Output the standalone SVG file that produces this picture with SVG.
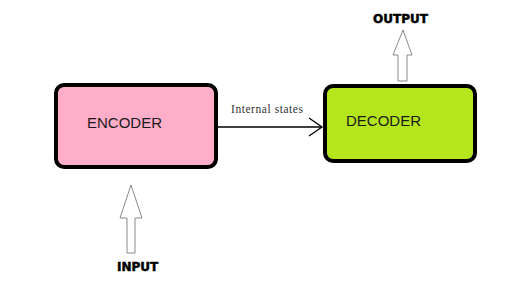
<svg xmlns="http://www.w3.org/2000/svg" width="527" height="284" viewBox="0 0 527 284">
<style>
.box{stroke:#000;stroke-width:4}
.lbl{font-family:"Liberation Sans",Arial,sans-serif;font-size:15px;fill:#1a1a1a}
.io{font-family:"DejaVu Sans",sans-serif;font-weight:bold;font-size:12px;fill:#000;stroke:#000;stroke-width:0.5}
.hollow{fill:#fff;stroke:#8a8a8a;stroke-width:1}
.conn{stroke:#000;stroke-width:1.3;fill:none}
</style>
<rect width="527" height="284" fill="#fff"/>
<g id="encoder">
<rect class="box" x="56" y="85" width="160" height="82" rx="8" fill="#FFAEC9"/>
<text class="lbl" x="87" y="128">ENCODER</text>
</g>
<g id="decoder">
<rect class="box" x="325" y="86" width="150" height="75" rx="8" fill="#B5E61D"/>
<text class="lbl" x="346" y="126">DECODER</text>
</g>
<g id="input">
<polygon class="hollow" points="131,185 142,218 135,218 135,253 127,253 127,218 120,218"/>
<text class="io" x="117" y="271">INPUT</text>
</g>
<g id="output">
<polygon class="hollow" points="403,30 412,55 407,55 407,81 398,81 398,55 393,55"/>
<text class="io" x="373" y="23">OUTPUT</text>
</g>
<g id="connectors">
<line class="conn" x1="218" y1="127" x2="322" y2="127"/>
<polyline class="conn" points="309,118 322,127 309,136"/>
<text x="231" y="113" font-family="Liberation Serif,serif" font-size="11.5" fill="#333" textLength="72" lengthAdjust="spacing">Internal states</text>
</g>
</svg>
